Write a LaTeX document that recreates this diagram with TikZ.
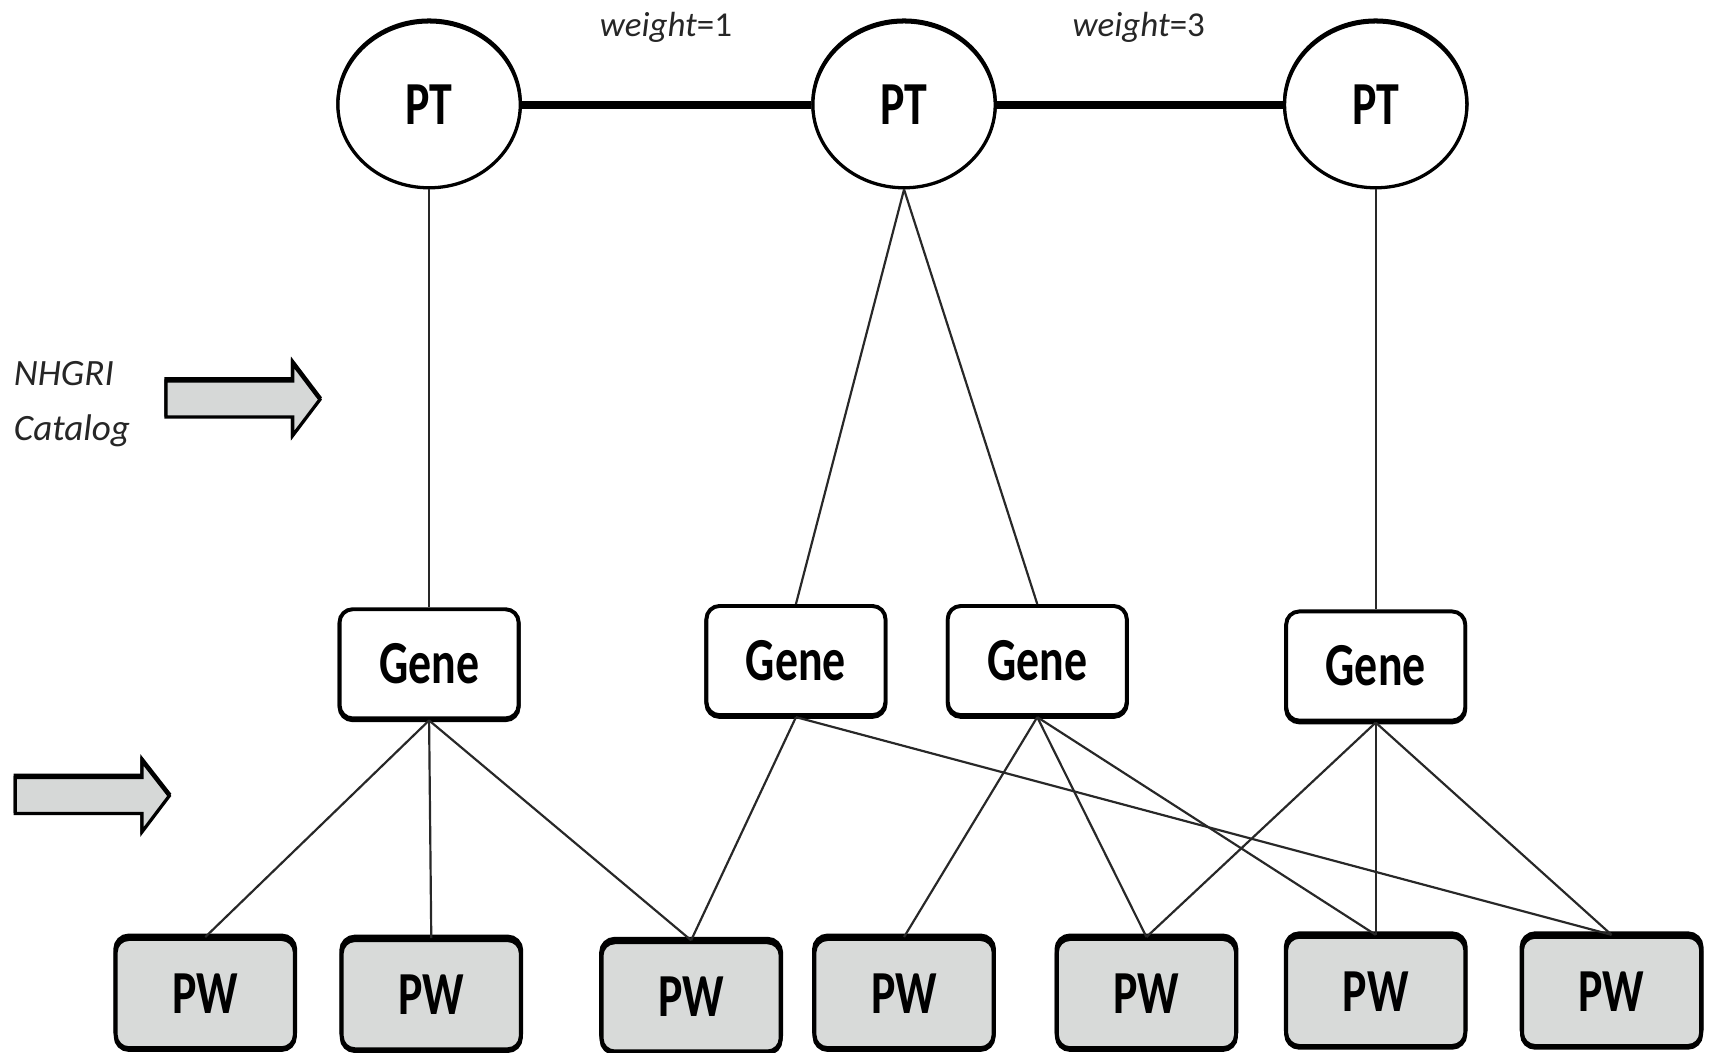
\documentclass[tikz,border=0pt]{standalone}
\usepackage{fontspec}
\setmainfont{Carlito}
\newfontfamily\boxfont[FakeStretch=0.75]{Carlito}
\usetikzlibrary{shapes.geometric}

\definecolor{pwgray}{RGB}{216,218,217}
\definecolor{arrowgray}{RGB}{214,216,215}
\definecolor{edgegray}{RGB}{40,40,40}

\tikzset{every picture/.style={line width=0.75pt},
	ptnode/.style={draw, ellipse, line width=1.5pt, minimum width=83.5pt, minimum height=76pt, inner sep=0pt, fill=white,
		preaction={draw, line width=1.5pt, transform canvas={yshift=0.8pt}},
		font=\boxfont\bfseries\fontsize{28}{28}\selectfont},
	genebox/.style={draw, rectangle, rounded corners=6pt, line width=1.8pt, minimum width=82pt, minimum height=50pt, inner sep=0pt, fill=white,
		preaction={draw, line width=1.8pt, transform canvas={yshift=-0.8pt}},
		font=\boxfont\bfseries\fontsize{28}{28}\selectfont},
	pwbox/.style={genebox, fill=pwgray,
		preaction={draw, line width=2.2pt, transform canvas={yshift=1.4pt}}},
	link/.style={draw=edgegray, line width=1pt},
	ptlink/.style={draw=black, line width=3.5pt},
	fatarrow/.style={draw=black, fill=arrowgray, line width=1.5pt, line join=miter,
		preaction={draw, line width=1.5pt, transform canvas={yshift=1pt}}},
	catlabel/.style={font=\itshape\fontsize{17}{17}\selectfont, text=black!85, anchor=base west, inner sep=0pt},
	wlabel/.style={font=\fontsize{16}{16}\selectfont, text=black!85, anchor=base, inner sep=0pt}
}

\begin{document}
\begin{tikzpicture}[x=0.5pt,y=0.5pt,yscale=-1,xscale=1]
	\useasboundingbox (0,0) rectangle (1568,964);

	%Phenotype nodes
	\node [ptnode] (pt1) at (393,96) {PT};
	\node [ptnode] (pt2) at (828,96) {PT};
	\node [ptnode] (pt3) at (1260,96) {PT};

	%Gene nodes
	\node [genebox] (g1) at (393,608) {Gene};
	\node [genebox] (g2) at (729,605) {Gene};
	\node [genebox] (g3) at (950,605) {Gene};
	\node [genebox] (g4) at (1260,610) {Gene};

	%Pathway nodes
	\node [pwbox] (pw1) at (188,910) {PW};
	\node [pwbox] (pw2) at (395,911) {PW};
	\node [pwbox] (pw3) at (633,913) {PW};
	\node [pwbox] (pw4) at (828,910) {PW};
	\node [pwbox] (pw5) at (1050,910) {PW};
	\node [pwbox] (pw6) at (1260,908) {PW};
	\node [pwbox] (pw7) at (1476,908) {PW};

	%Straight Lines PT -- PT
	\draw [ptlink] (pt1) -- (pt2) ;
	\draw [ptlink] (pt2) -- (pt3) ;

	%Straight Lines PT -- Gene
	\draw [link] (pt1.south) -- (g1.north) ;
	\draw [link] (pt2.south) -- (g2.north) ;
	\draw [link] (pt2.south) -- (g3.north) ;
	\draw [link] (pt3.south) -- (g4.north) ;

	%Straight Lines Gene -- PW
	\draw [link] (g1.south) -- (pw1.north) ;
	\draw [link] (g1.south) -- (pw2.north) ;
	\draw [link] (g1.south) -- (pw3.north) ;
	\draw [link] (g2.south) -- (pw3.north) ;
	\draw [link] (g2.south) -- (pw7.north) ;
	\draw [link] (g3.south) -- (pw4.north) ;
	\draw [link] (g3.south) -- (pw5.north) ;
	\draw [link] (g3.south) -- (pw6.north) ;
	\draw [link] (g4.south) -- (pw5.north) ;
	\draw [link] (g4.south) -- (pw6.north) ;
	\draw [link] (g4.south) -- (pw7.north) ;

	%Shape: Right Arrow
	\draw [fatarrow] (152,349) -- (268,349) -- (268,333) -- (293,366) -- (268,399) -- (268,382) -- (152,382) -- cycle ;
	%Shape: Right Arrow
	\draw [fatarrow] (14,712) -- (130,712) -- (130,697) -- (155,729) -- (130,762) -- (130,745) -- (14,745) -- cycle ;

	% Text Node
	\node [wlabel] (w1) at (610,33) {\textit{weight}=1};
	% Text Node
	\node [wlabel] (w3) at (1043,33) {\textit{weight}=3};
	% Text Node
	\node [catlabel] (nhgri) at (12,353) {NHGRI};
	% Text Node
	\node [catlabel] (catalog) at (12,403) {Catalog};

\end{tikzpicture}
\end{document}
